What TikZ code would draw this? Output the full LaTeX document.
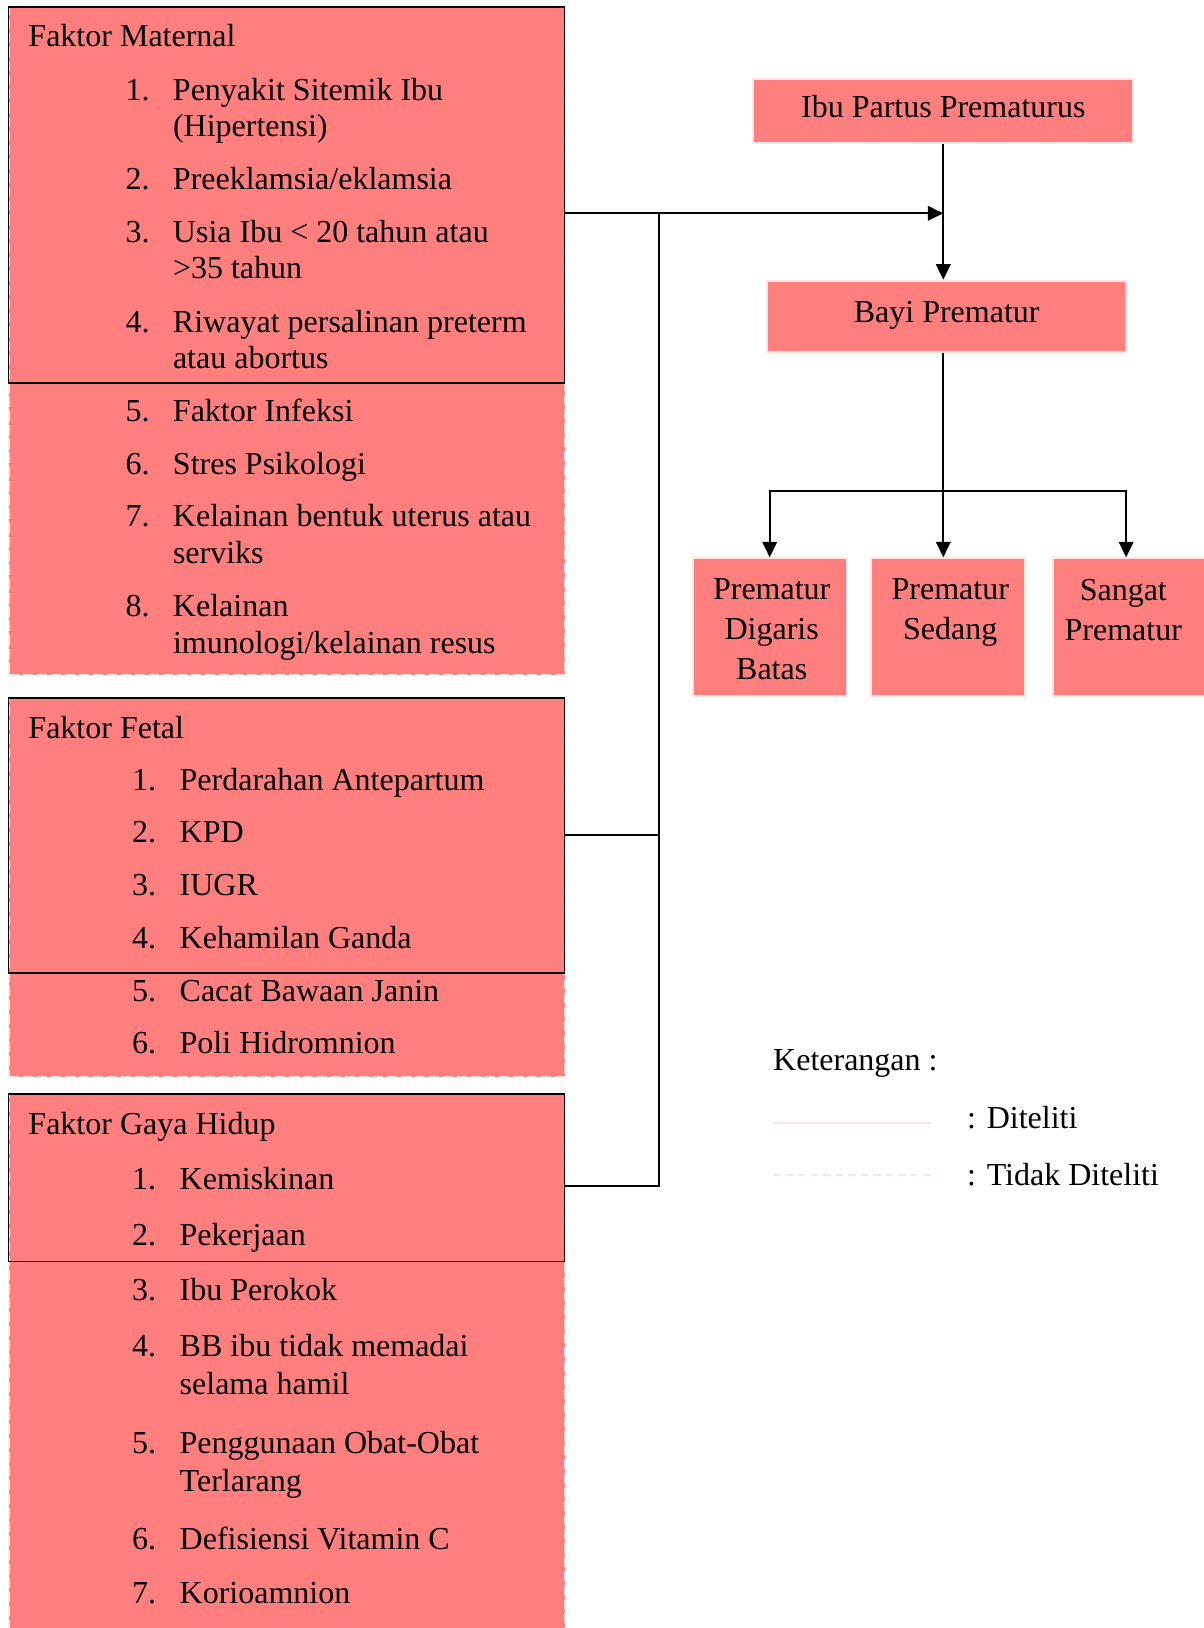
\documentclass[tikz,border=0pt]{standalone}
\usepackage{fontspec}
\setmainfont{Liberation Serif}
\usetikzlibrary{arrows.meta,positioning}

\definecolor{kotak}{RGB}{255,127,127}
\definecolor{garispink}{RGB}{255,228,228}

\newcommand{\nomor}[1]{\makebox[19pt][l]{#1}}

\tikzset{
	isi/.style={font=\fontsize{12.8}{15}\selectfont, inner sep=0pt, anchor=base west},
	kotakputus/.style={draw=garispink, fill=kotak, dash pattern=on 4pt off 1.6pt, line width=0.8pt, anchor=north west, inner sep=0pt, minimum width=222.4pt},
	kotakteliti/.style={draw=black, line width=0.7pt, anchor=north west, inner sep=0pt, minimum width=222.4pt},
	kotakkanan/.style={draw=garispink, fill=kotak, line width=0.8pt, inner sep=0pt, text height=0.7em, text depth=0.22em, font=\fontsize{12.8}{16}\selectfont},
	tekskanan/.style={font=\fontsize{12.8}{16}\selectfont, inner sep=0pt, align=center, anchor=north},
	garis/.style={line width=0.8pt},
	panah/.style={line width=0.8pt, -{Triangle[length=6.2pt,width=5.8pt]}},
	legenda/.style={draw=garispink, line width=0.8pt}
}

\begin{document}
\begin{tikzpicture}[x=0.4pt,y=-0.4pt]
	\useasboundingbox (0,0) rectangle (1204,1628);

	%% faktor maternal
	\node[kotakputus, minimum height=267.2pt] (matluar) at (7.5,6) {};
	\node[kotakteliti, minimum height=150.3pt] (mat) at (7.5,6) {};
	\node[isi] (m0) at (28,46.7) {Faktor Maternal};
	\node[isi] (m1) at (125,100) {\nomor{1.}Penyakit Sitemik Ibu};
	\node[isi] (m1b) at (172.5,136.7) {(Hipertensi)};
	\node[isi] (m2) at (125,189) {\nomor{2.}Preeklamsia/eklamsia};
	\node[isi] (m3) at (125,242) {\nomor{3.}Usia Ibu < 20 tahun atau};
	\node[isi] (m3b) at (172.5,278) {>35 tahun};
	\node[isi] (m4) at (125,332) {\nomor{4.}Riwayat persalinan preterm};
	\node[isi] (m4b) at (172.5,368) {atau abortus};
	\node[isi] (m5) at (125,421.7) {\nomor{5.}Faktor Infeksi};
	\node[isi] (m6) at (125,474) {\nomor{6.}Stres Psikologi};
	\node[isi] (m7) at (125,526.7) {\nomor{7.}Kelainan bentuk uterus atau};
	\node[isi] (m7b) at (172.5,563) {serviks};
	\node[isi] (m8) at (125,616.7) {\nomor{8.}Kelainan};
	\node[isi] (m8b) at (172.5,653) {imunologi/kelainan resus};

	%% faktor fetal
	\node[kotakputus, minimum height=151.4pt] (fetluar) at (7.5,697) {};
	\node[kotakteliti, minimum height=109.9pt] (fet) at (7.5,697) {};
	\node[isi] (f0) at (28,738.3) {Faktor Fetal};
	\node[isi] (f1) at (131.7,790.7) {\nomor{1.}Perdarahan Antepartum};
	\node[isi] (f2) at (131.7,842.7) {\nomor{2.}KPD};
	\node[isi] (f3) at (131.7,895) {\nomor{3.}IUGR};
	\node[isi] (f4) at (131.7,948.3) {\nomor{4.}Kehamilan Ganda};
	\node[isi] (f5) at (131.7,1001.7) {\nomor{5.}Cacat Bawaan Janin};
	\node[isi] (f6) at (131.7,1053.3) {\nomor{6.}Poli Hidromnion};

	%% faktor gaya hidup
	\node[kotakputus, minimum height=218.7pt] (gayaluar) at (7.5,1093.3) {};
	\node[kotakteliti, minimum height=66.9pt] (gaya) at (7.5,1093.3) {};
	\node[isi] (g0) at (28,1134.1) {Faktor Gaya Hidup};
	\node[isi] (g1) at (131.7,1189.9) {\nomor{1.}Kemiskinan};
	\node[isi] (g2) at (131.7,1245) {\nomor{2.}Pekerjaan};
	\node[isi] (g3) at (131.7,1300.7) {\nomor{3.}Ibu Perokok};
	\node[isi] (g4) at (131.7,1356.9) {\nomor{4.}BB ibu tidak memadai};
	\node[isi] (g4b) at (179.2,1394.8) {selama hamil};
	\node[isi] (g5) at (131.7,1453.3) {\nomor{5.}Penggunaan Obat-Obat};
	\node[isi] (g5b) at (179.2,1491.2) {Terlarang};
	\node[isi] (g6) at (131.7,1549.7) {\nomor{6.}Defisiensi Vitamin C};
	\node[isi] (g7) at (131.7,1603.1) {\nomor{7.}Korioamnion};

	%% sisi kanan
	\node[kotakkanan, minimum width=152pt, minimum height=25.6pt] (ibu) at (943.3,111.3) {Ibu Partus Prematurus};
	\node[kotakkanan, minimum width=143.6pt, minimum height=28.4pt] (bayi) at (946.7,316.2) {Bayi Prematur};
	\node[kotakkanan, minimum width=61.6pt, minimum height=55.1pt] (pmA) at (769.7,627.2) {};
	\node[kotakkanan, minimum width=61.6pt, minimum height=55.1pt] (pmB) at (948,627.2) {};
	\node[kotakkanan, minimum width=61.4pt, minimum height=55.1pt] (pmC) at (1129.4,627.2) {};
	\node[tekskanan] (tA) at (771.7,578.4) {Prematur\\Digaris\\Batas};
	\node[tekskanan] (tB) at (950.3,578.4) {Prematur\\Sedang};
	\node[tekskanan] (tC) at (1123.3,578.4) {Sangat\\Prematur};

	%% garis penghubung
	\coordinate (simpul) at (943.3,213.3);
	\coordinate (bus) at (659.3,213.3);
	\coordinate (cabang) at (943.3,490.7);
	\draw[panah] (mat.east |- simpul) -- (simpul);
	\draw[panah] (ibu.south) -- (ibu.south |- bayi.north);
	\draw[garis] (bus) |- ([yshift=-3.2pt]gaya.east);
	\draw[garis] (fet.east) -- (fet.east -| bus);
	\draw[garis] (bayi.south -| cabang) -- (cabang);
	\draw[panah] (cabang) -- (cabang |- pmB.north);
	\draw[panah] (cabang) -| (pmA.north);
	\draw[panah] (cabang) -| ([xshift=-1.3pt]pmC.north);

	%% keterangan
	\node[isi] (ket) at (772.7,1070) {Keterangan :};
	\node[isi] (ket1) at (966.7,1128.3) {: Diteliti};
	\node[isi] (ket2) at (966.7,1185.7) {: Tidak Diteliti};
	\draw[legenda] (773,1122.7) -- (931,1122.7);
	\draw[legenda, dash pattern=on 3pt off 2pt] (773,1175) -- (931,1175);
\end{tikzpicture}
\end{document}
